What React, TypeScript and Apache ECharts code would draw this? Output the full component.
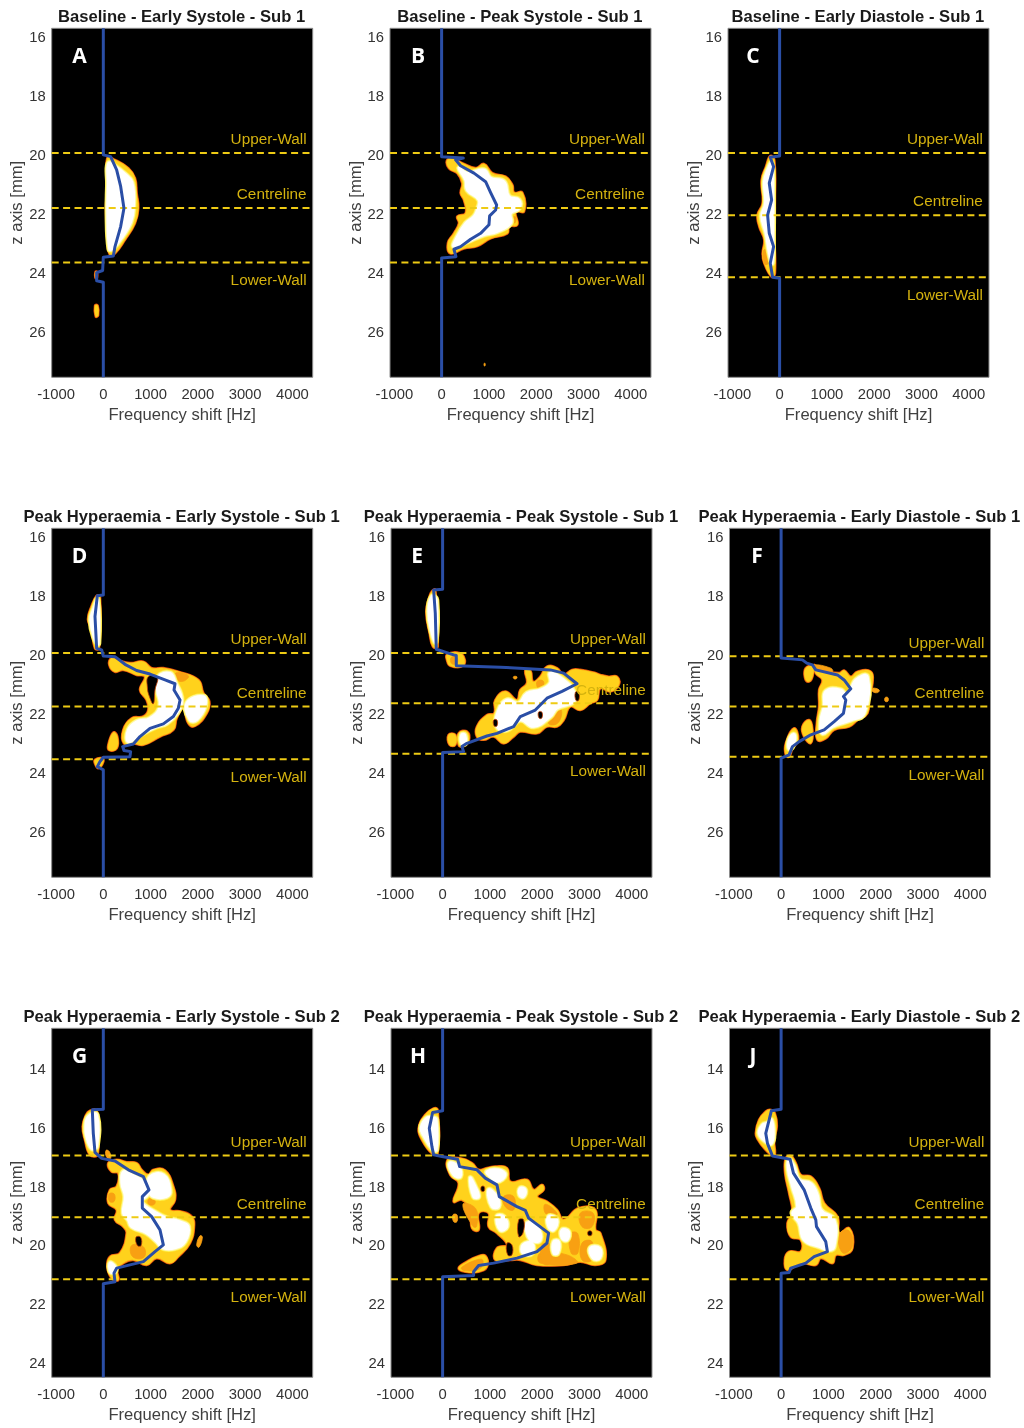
import React, { useEffect, useRef } from "react";
import * as echarts from "echarts";

type Pts = number[][];

const freqTicks = [-1000, 0, 1000, 2000, 3000, 4000];
const zTicksSub1 = [16, 18, 20, 22, 24, 26];
const zTicksSub2 = [14, 16, 18, 20, 22, 24];
const wallNames = ["Upper-Wall", "Centreline", "Lower-Wall"];

// ---- A ----
const aWalls = [19.95, 21.81, 23.66];
const aWallText = [19.47, 21.31, 24.23];
const aProfile: Pts = [[0,15.72],[0,20.01],[155,20.07],[282,20.52],[367,21.08],[437,21.82],[367,22.44],[247,23.12],[212,23.44],[0,23.48],[-14,23.93],[-141,24.0],[-141,24.28],[0,24.33],[0,27.55]];
const aOuter: Pts[] = [
  [[85,20.12],[247,20.18],[529,20.46],[670,20.8],[705,21.31],[740,21.82],[670,22.33],[458,22.89],[247,23.35],[141,23.4],[85,22.9],[56,21.82],[85,21.08]],
  [[-175,25.12],[-120,25.12],[-110,25.45],[-160,25.49]],
  [[-165,23.98],[-135,23.98],[-135,24.18],[-165,24.18]],
];
const aCore: Pts[] = [[[110,20.3],[250,20.4],[450,20.65],[610,20.95],[640,21.82],[580,22.3],[420,22.75],[200,23.2],[130,23.2],[90,22],[100,21]]];
const aWarm: Pts[] = [];
const aHoles: Pts[] = [];

// ---- B ----
const bWalls = [19.95, 21.81, 23.66];
const bWallText = [19.47, 21.31, 24.23];
const bProfile: Pts = [[0,15.72],[0,20.07],[459,20.12],[296,20.18],[402,20.38],[684,20.63],[931,20.92],[1037,21.29],[1164,21.71],[1143,21.88],[1016,22.08],[1002,22.38],[825,22.67],[614,22.87],[402,23.12],[261,23.21],[303,23.46],[0,23.51],[0,27.55]];
const bOuter: Pts[] = [
  [[120,20.18],[261,20.16],[437,20.29],[720,20.46],[896,20.32],[1072,20.63],[1355,20.75],[1496,21.03],[1531,21.29],[1707,21.29],[1743,21.93],[1566,21.93],[1601,22.38],[1425,22.44],[1390,22.67],[1037,22.84],[755,23.1],[473,23.18],[190,23.35],[134,23.0],[261,22.67],[367,22.33],[332,22.1],[508,21.99],[473,21.54],[402,21.31],[437,20.97],[332,20.63],[155,20.46]],
];
const bCore: Pts[] = [[[367,20.46],[543,20.63],[896,20.52],[1037,20.8],[1319,20.92],[1425,21.42],[1637,21.54],[1637,21.82],[1460,21.99],[1460,22.33],[1178,22.61],[896,22.72],[543,22.95],[261,23.12],[332,22.78],[508,22.33],[684,22.1],[755,21.88],[790,21.54],[543,21.2],[508,20.86]]];
const bWarm: Pts[] = [[[900,27.08],[920,27.08],[920,27.16],[900,27.16]],[[1510,22.12],[1570,22.12],[1560,22.3],[1520,22.3]]];
const bHoles: Pts[] = [];

// ---- C ----
const cWalls = [19.95, 22.06, 24.16];
const cWallText = [19.47, 21.57, 24.74];
const cProfile: Pts = [[0,15.72],[0,20.05],[-198,20.09],[-127,20.41],[-219,20.97],[-169,21.54],[-254,22.05],[-219,22.67],[-127,23.12],[-198,23.68],[-148,24.16],[0,24.19],[0,27.55]];
const cOuter: Pts[] = [[[-198,20.05],[-113,20.18],[-99,21.54],[-113,22.67],[-99,24.02],[-169,24.14],[-325,23.68],[-360,23.35],[-325,22.89],[-430,22.44],[-466,22.05],[-360,21.65],[-381,20.86],[-289,20.41]]];
const cCore: Pts[] = [[[-169,20.29],[-141,21.54],[-141,22.67],[-155,23.68],[-219,23.35],[-289,22.67],[-381,22.1],[-303,21.65],[-325,20.92],[-254,20.52]]];
const cWarm: Pts[] = [[[-340,23.25],[-270,23.25],[-250,23.7],[-320,23.7]]];
const cHoles: Pts[] = [];

// ---- D ----
const dWalls = [19.95, 21.76, 23.55];
const dWallText = [19.47, 21.28, 24.14];
const dProfile: Pts = [[0,15.72],[0,17.98],[-127,18.01],[-176,18.71],[-141,19.79],[-35,19.84],[0,20.05],[247,20.07],[458,20.33],[705,20.54],[987,20.66],[1305,20.86],[1517,20.99],[1496,21.2],[1623,21.54],[1587,21.82],[1482,22.1],[1270,22.35],[987,22.5],[776,22.78],[635,23.03],[409,23.12],[437,23.25],[578,23.29],[564,23.46],[0,23.48],[-71,23.63],[-127,23.8],[0,23.91],[0,27.55]];
const dOuter: Pts[] = [
  [[176,20.12],[282,20.18],[564,20.29],[847,20.24],[1023,20.46],[1270,20.46],[1587,20.58],[2011,20.86],[2117,21.31],[2243,21.59],[2187,21.99],[1940,22.42],[1799,22.33],[1693,21.82],[1552,22.16],[1482,22.55],[1199,22.78],[847,23.06],[635,23.01],[437,23.01],[423,22.55],[600,22.16],[847,22.1],[952,21.88],[917,21.54],[776,21.2],[882,20.75],[705,20.69],[423,20.52],[247,20.58],[127,20.35]],
  [[106,23.06],[212,22.64],[296,22.78],[282,23.18],[127,23.24]],
  [[-176,23.57],[-35,23.51],[0,23.63],[-106,23.85],[-176,23.69]],
  [[-141,18.01],[-71,18.03],[-92,19.79],[-176,19.79],[-247,19.16],[-325,18.8],[-247,18.35]],
];
const dCore: Pts[] = [
  [[1164,20.75],[1411,20.63],[1517,20.92],[1658,21.54],[1552,21.99],[1340,22.33],[1129,22.44],[776,22.72],[529,22.95],[529,22.55],[705,22.27],[987,22.16],[1199,21.76],[1143,21.2]],
  [[1764,21.65],[2117,21.42],[2152,21.76],[1976,22.21],[1834,22.21]],
  [[-120,18.15],[-106,19.62],[-176,19.5],[-268,18.83],[-198,18.43]],
];
const dWarm: Pts[] = [[[1540,20.62],[1800,20.72],[1700,20.9],[1560,20.85]]];
const dHoles: Pts[] = [[[952,20.75],[1143,20.75],[1094,21.2],[1058,21.67],[974,21.42],[931,21.09]]];

// ---- E ----
const eWalls = [19.95, 21.65, 23.36];
const eWallText = [19.47, 21.18, 23.93];
const eProfile: Pts = [[0,15.72],[0,17.79],[-190,17.81],[-155,18.6],[-134,19.82],[233,20.01],[289,20.03],[289,20.38],[1220,20.43],[2279,20.52],[2561,20.63],[2843,20.99],[2526,21.25],[2208,21.48],[1961,21.88],[1644,22.1],[1503,22.44],[1150,22.67],[938,22.76],[515,23.01],[409,23.12],[444,23.29],[0,23.32],[0,27.55]];
const eOuter: Pts[] = [
  [[1750,20.54],[1855,20.54],[1912,20.92],[2067,20.75],[2208,20.41],[2420,20.46],[2561,20.69],[2737,20.52],[2914,20.52],[3196,20.61],[3337,20.69],[3513,20.75],[3690,20.75],[3725,21.03],[3549,21.25],[3337,21.14],[3266,21.54],[3125,21.65],[2914,21.88],[2702,21.76],[2561,22.22],[2420,22.44],[2208,22.44],[1997,22.67],[1644,22.61],[1503,22.78],[1291,23.01],[1079,22.78],[868,22.89],[727,22.78],[727,22.44],[938,22.05],[1094,21.99],[1115,21.54],[1326,21.25],[1573,21.54],[1644,21.2],[1785,20.97]],
  [[92,20.01],[304,19.93],[444,20.07],[430,20.38],[163,20.38],[92,20.18]],
  [[127,22.72],[268,22.72],[268,23.06],[148,23.06]],
  [[339,22.67],[515,22.61],[550,22.95],[409,23.12],[339,23.06]],
  [[-226,17.86],[-155,17.81],[-106,19.73],[-205,19.73],[-275,19.28],[-346,18.54],[-275,18.03]],
];
const eCore: Pts[] = [
  [[2279,20.63],[2561,20.86],[2773,21.25],[2773,21.59],[2420,21.82],[2279,22.1],[1926,22.44],[1644,22.22],[1362,22.55],[1150,22.44],[1185,21.88],[1362,21.54],[1609,21.65],[1785,21.31],[2067,21.2],[2279,20.97]],
  [[400,22.72],[470,22.72],[480,23.0],[410,23.02]],
  [[-226,18.03],[-134,18.15],[-148,19.56],[-226,19.28],[-296,18.54]],
];
const eWarm: Pts[] = [
  [[2000,20.9],[2130,20.9],[2110,21.15],[2020,21.15]],
  [[2280,22.0],[2500,21.85],[2450,22.3],[2250,22.35]],
  [[1500,20.75],[1570,20.75],[1560,20.82],[1510,20.82]],
  [[180,20.1],[300,20.1],[300,20.3],[190,20.3]],
];
const eHoles: Pts[] = [
  [[2030,21.95],[2100,21.95],[2100,22.15],[2040,22.15]],
  [[1080,22.22],[1150,22.22],[1150,22.42],[1090,22.42]],
  [[2810,21.28],[2880,21.28],[2880,21.55],[2820,21.55]],
];

// ---- F ----
const fWalls = [20.06, 21.76, 23.46];
const fWallText = [19.58, 21.28, 24.05];
const fProfile: Pts = [[0,15.72],[0,20.12],[451,20.18],[543,20.29],[663,20.35],[733,20.52],[1192,20.69],[1333,20.86],[1475,21.16],[1319,21.42],[1369,21.54],[1319,21.99],[1122,22.27],[910,22.55],[628,22.72],[381,22.95],[240,23.12],[169,23.4],[0,23.51],[0,27.55]];
const fOuter: Pts[] = [
  [[698,20.35],[804,20.52],[1228,20.63],[1333,20.54],[1475,20.75],[1615,20.58],[1898,20.58],[1933,20.97],[1862,21.42],[1827,21.99],[1615,22.22],[1440,22.44],[1122,22.55],[945,22.84],[769,22.89],[755,22.33],[804,21.76],[804,21.2],[875,20.86],[733,20.63]],
  [[522,20.46],[663,20.41],[663,20.75],[571,20.92],[501,20.75]],
  [[451,22.44],[593,22.22],[663,22.55],[628,23.0],[487,22.78]],
  [[99,23.01],[275,22.5],[360,22.89],[240,23.18],[169,23.46],[99,23.4]],
];
const fCore: Pts[] = [
  [[945,21.25],[1263,21.2],[1403,21.42],[1580,20.86],[1827,20.75],[1757,21.99],[1475,22.22],[1087,22.44],[875,22.67],[840,22.22],[910,21.76]],
  [[160,22.95],[265,22.7],[290,22.9],[180,23.2]],
];
const fWarm: Pts[] = [
  [[1933,21.14],[2074,21.2],[2039,21.29],[1933,21.25]],
  [[2200,21.46],[2260,21.46],[2260,21.58],[2200,21.58]],
  [[698,20.35],[1051,20.46],[1087,20.58],[769,20.52]],
];
const fHoles: Pts[] = [];

// ---- G ----
const gWalls = [16.94, 19.04, 21.15];
const gWallText = [16.47, 18.56, 21.73];
const gProfile: Pts = [[0,12.62],[0,15.37],[-233,15.39],[-212,16.19],[-176,16.84],[-35,17.04],[247,17.13],[529,17.43],[847,17.66],[966,18.11],[825,18.34],[825,18.73],[1023,19.02],[1199,19.47],[1270,19.98],[1094,20.21],[847,20.55],[564,20.66],[282,20.77],[226,20.94],[247,21.23],[0,21.3],[0,24.48]];
const gOuter: Pts[] = [
  [[-282,15.42],[-141,15.42],[-120,16.19],[-127,16.92],[-282,16.92],[-388,16.41],[-437,15.96],[-367,15.57]],
  [[106,17.2],[282,17.09],[494,17.17],[705,17.2],[811,17.43],[952,17.6],[1058,17.43],[1305,17.45],[1482,18.0],[1517,18.45],[1411,18.79],[1658,18.85],[1870,19.02],[1919,19.36],[1834,19.92],[1587,20.38],[1411,20.6],[1129,20.43],[917,20.66],[635,20.49],[423,20.6],[296,20.83],[317,21.17],[176,21.11],[85,20.72],[141,20.38],[353,20.26],[494,19.58],[423,19.36],[247,19.13],[282,18.79],[106,18.56],[141,18.11],[282,18.0],[317,17.54],[176,17.49]],
];
const gCore: Pts[] = [
  [[-317,15.62],[-141,15.56],[-141,16.64],[-247,16.7],[-353,16.3],[-374,15.96]],
  [[423,17.49],[600,17.6],[847,17.83],[952,18.22],[811,18.51],[1129,18.9],[1340,19.07],[1623,19.19],[1799,19.36],[1729,19.87],[1517,20.09],[1270,20.09],[1129,19.87],[917,19.58],[600,19.36],[529,19.13],[423,18.9],[459,18.34],[388,17.88]],
  [[987,17.66],[1270,17.6],[1411,18.11],[1340,18.34],[1058,18.34],[966,18.11]],
  [[141,20.6],[247,20.72],[240,20.9],[155,20.9]],
];
const gWarm: Pts[] = [
  [[56,16.77],[127,16.81],[155,17.04],[70,17.0]],
  [[2046,19.67],[2096,19.72],[2025,20.06],[1975,19.98]],
  [[600,20.0],[850,20.05],[860,20.4],[620,20.38]],
  [[960,18.42],[1080,18.42],[1080,18.6],[960,18.6]],
  [[120,18.25],[230,18.25],[230,18.5],[130,18.5]],
];
const gHoles: Pts[] = [[[690,19.72],[790,19.72],[800,20.0],[720,20.0]]];

// ---- H ----
const hWalls = [16.94, 19.04, 21.15];
const hWallText = [16.47, 18.56, 21.73];
const hProfile: Pts = [[0,12.62],[0,15.42],[-212,15.48],[-282,16.02],[-226,16.64],[-190,16.92],[-14,16.98],[317,17.07],[360,17.32],[727,17.43],[903,17.71],[1150,17.94],[1199,18.34],[1573,18.68],[1750,18.81],[1820,19.07],[2243,19.58],[2208,19.92],[1997,20.21],[1573,20.43],[1079,20.6],[762,20.68],[656,20.89],[656,21.02],[0,21.06],[0,24.48]];
const hOuter: Pts[] = [
  [[-190,15.34],[-106,15.39],[-106,16.87],[-226,16.87],[-437,16.41],[-508,16.02],[-367,15.56]],
  [[106,17.09],[374,17.04],[621,17.2],[762,17.43],[938,17.37],[1115,17.32],[1362,17.37],[1432,17.83],[1785,17.77],[1926,18.11],[2102,17.94],[2138,18.11],[1997,18.34],[2208,18.51],[2420,18.79],[2561,19.13],[2878,18.73],[3231,18.79],[3231,19.47],[3337,19.58],[3443,20.49],[3231,20.66],[2914,20.55],[2561,20.66],[1997,20.66],[1644,20.49],[1432,20.49],[1115,20.49],[1150,20.09],[1362,19.98],[1150,19.58],[974,19.36],[974,18.9],[762,18.9],[762,19.47],[621,19.41],[586,18.79],[409,18.45],[233,18.51],[339,17.88],[162,17.6]],
  [[339,20.77],[515,20.55],[727,20.38],[903,20.35],[938,20.72],[762,20.89],[480,20.89]],
];
const hCore: Pts[] = [
  [[-205,15.66],[-134,15.72],[-134,16.75],[-226,16.7],[-388,16.3],[-459,16.02],[-346,15.68]],
  [[148,17.2],[339,17.32],[374,17.66],[233,17.6]],
  [[938,17.49],[1185,17.43],[1326,17.6],[1150,17.83],[1009,17.66]],
  [[1644,18.05],[1750,18.11],[1714,18.34],[1630,18.28]],
  [[974,18.11],[1150,18.34],[1185,18.68],[1044,18.68]],
  [[586,17.71],[691,18],[762,18.34],[656,18.34]],
  [[1150,19.02],[1291,19.02],[1362,19.36],[1220,19.47]],
  [[1785,19.24],[1997,19.36],[2067,19.81],[1855,19.81]],
  [[1700,19.98],[1891,19.92],[1891,20.26],[1700,20.26]],
  [[2243,19.02],[2420,19.13],[2349,19.47],[2243,19.36]],
  [[2526,19.47],[2667,19.53],[2632,19.81],[2526,19.75]],
  [[3125,20.09],[3323,20.09],[3323,20.43],[3182,20.43]],
  [[2349,19.87],[2455,19.87],[2434,20.26],[2349,20.26]],
];
const hWarm: Pts[] = [
  [[2914,18.9],[3182,18.9],[3160,19.36],[2949,19.36]],
  [[2067,20.26],[2632,20.32],[2843,20.6],[2067,20.6]],
  [[1291,18.34],[1503,18.34],[1503,18.79],[1326,18.68]],
  [[2949,19.92],[3160,19.87],[3160,20.49],[2949,20.49]],
  [[2173,18.6],[2420,18.9],[2349,19.02],[2173,18.9]],
  [[219,18.96],[303,18.96],[303,19.19],[233,19.19]],
  [[400,20.75],[700,20.5],[850,20.5],[780,20.8],[450,20.85]],
  [[430,18.6],[700,18.75],[720,19.35],[640,19.35]],
  [[2102,19.98],[2279,19.98],[2279,20.6],[2120,20.6]],
  [[2702,19.6],[2860,19.6],[2860,20.26],[2720,20.26]],
];
const hHoles: Pts[] = [
  [[820,18.0],[880,18.0],[880,18.15],[820,18.15]],
  [[1609,19.13],[1714,19.13],[1700,19.58],[1609,19.7]],
  [[1362,19.92],[1467,19.98],[1467,20.32],[1376,20.32]],
  [[3080,19.52],[3150,19.52],[3150,19.65],[3080,19.65]],
];

// ---- J ----
const jWalls = [16.94, 19.04, 21.15];
const jWallText = [16.47, 18.56, 21.73];
const jProfile: Pts = [[0,12.62],[0,15.37],[-205,15.42],[-325,16.19],[-289,16.53],[-183,16.96],[190,17.07],[261,17.54],[487,18.11],[628,18.73],[734,19.13],[748,19.36],[945,19.87],[980,20.21],[698,20.38],[522,20.6],[205,20.77],[169,20.92],[0,20.94],[0,24.48]];
const jOuter: Pts[] = [
  [[-233,15.39],[-134,15.51],[-92,15.96],[-148,16.41],[-134,16.92],[-205,16.92],[-360,16.69],[-487,16.41],[-536,16.19],[-466,15.73],[-325,15.45]],
  [[204,16.96],[310,17.2],[416,17.6],[628,17.66],[804,18.05],[910,18.56],[1192,19.02],[1228,19.58],[1439,19.41],[1510,20.09],[1333,20.32],[1157,20.32],[1087,20.6],[840,20.43],[734,20.66],[416,20.6],[134,20.83],[78,20.49],[169,20.21],[416,20.21],[416,19.81],[204,19.7],[134,19.24],[240,18.9],[169,18.22],[85,17.54],[99,17.04]],
];
const jCore: Pts[] = [
  [[-289,15.84],[-205,15.73],[-162,16.19],[-205,16.53],[-325,16.47],[-466,16.19],[-395,15.91]],
  [[169,17.09],[275,17.32],[381,17.77],[628,17.89],[769,18.28],[840,18.79],[1122,19.13],[1122,20.04],[1016,20.15],[804,20.04],[487,19.81],[381,19.24],[240,18.9],[346,18.68],[240,18.01],[148,17.41]],
];
const jWarm: Pts[] = [[[1228,19.62],[1439,19.5],[1500,20.05],[1300,20.25]]];
const jHoles: Pts[] = [];

// Layout of the small multiples (library options, not data).
const AXIS_W = 261;
const AXIS_H = 349;
const FREQ_MIN = -1092;
const FREQ_MAX = 4430;
const LABEL_FREQ = 4300;
const FONT = '"Liberation Sans", Arial, sans-serif';

const panels = [
  { title: "Baseline - Early Systole - Sub 1", letter: "A", lx: 79.5, x: 51.7, y: 28.3, z: [15.72, 27.55], ticks: zTicksSub1, walls: aWalls, wallText: aWallText, profile: aProfile, outer: aOuter, core: aCore, warm: aWarm, holes: aHoles },
  { title: "Baseline - Peak Systole - Sub 1", letter: "B", lx: 418, x: 390, y: 28.3, z: [15.72, 27.55], ticks: zTicksSub1, walls: bWalls, wallText: bWallText, profile: bProfile, outer: bOuter, core: bCore, warm: bWarm, holes: bHoles },
  { title: "Baseline - Early Diastole - Sub 1", letter: "C", lx: 753, x: 728, y: 28.3, z: [15.72, 27.55], ticks: zTicksSub1, walls: cWalls, wallText: cWallText, profile: cProfile, outer: cOuter, core: cCore, warm: cWarm, holes: cHoles },
  { title: "Peak Hyperaemia - Early Systole - Sub 1", letter: "D", lx: 79.5, x: 51.7, y: 528.3, z: [15.72, 27.55], ticks: zTicksSub1, walls: dWalls, wallText: dWallText, profile: dProfile, outer: dOuter, core: dCore, warm: dWarm, holes: dHoles },
  { title: "Peak Hyperaemia - Peak Systole - Sub 1", letter: "E", lx: 417, x: 391, y: 528.3, z: [15.72, 27.55], ticks: zTicksSub1, walls: eWalls, wallText: eWallText, profile: eProfile, outer: eOuter, core: eCore, warm: eWarm, holes: eHoles },
  { title: "Peak Hyperaemia - Early Diastole - Sub 1", letter: "F", lx: 757, x: 729.5, y: 528.3, z: [15.72, 27.55], ticks: zTicksSub1, walls: fWalls, wallText: fWallText, profile: fProfile, outer: fOuter, core: fCore, warm: fWarm, holes: fHoles },
  { title: "Peak Hyperaemia - Early Systole - Sub 2", letter: "G", lx: 79.5, x: 51.7, y: 1028.3, z: [12.62, 24.48], ticks: zTicksSub2, walls: gWalls, wallText: gWallText, profile: gProfile, outer: gOuter, core: gCore, warm: gWarm, holes: gHoles },
  { title: "Peak Hyperaemia - Peak Systole - Sub 2", letter: "H", lx: 418, x: 391, y: 1028.3, z: [12.62, 24.48], ticks: zTicksSub2, walls: hWalls, wallText: hWallText, profile: hProfile, outer: hOuter, core: hCore, warm: hWarm, holes: hHoles },
  { title: "Peak Hyperaemia - Early Diastole - Sub 2", letter: "J", lx: 753, x: 729.5, y: 1028.3, z: [12.62, 24.48], ticks: zTicksSub2, walls: jWalls, wallText: jWallText, profile: jProfile, outer: jOuter, core: jCore, warm: jWarm, holes: jHoles },
];

const plain = (v: number) => String(v);

function blobLayers(p: (typeof panels)[number]) {
  const out: { poly: Pts; fill: string; stroke: string; w: number }[] = [];
  const push = (list: Pts[], fill: string, stroke: string, w: number) =>
    list.forEach((poly) => out.push({ poly, fill, stroke, w }));
  push(p.outer, "#d9450c", "#d9450c", 2.6);
  push(p.outer, "#f98c10", "#f98c10", 1.5);
  push(p.outer, "#ffd21c", "#ffd21c", 0.5);
  push(p.warm, "#f8a012", "#f8a012", 0.8);
  push(p.core, "#ffee40", "#ffee40", 6);
  push(p.core, "#fff8a8", "#fff8a8", 4.5);
  push(p.core, "#ffffff", "#ffffff", 2.5);
  push(p.holes, "#000000", "#c2410a", 0.8);
  return out;
}

function buildOption() {
  const grid: any[] = [];
  const xAxis: any[] = [];
  const yAxis: any[] = [];
  const series: any[] = [];
  const title: any[] = [];
  const graphic: any[] = [];
  panels.forEach((p, i) => {
    grid.push({ left: p.x, top: p.y, width: AXIS_W, height: AXIS_H, show: true, backgroundColor: "#000", borderColor: "#8c8c8c", borderWidth: 1, containLabel: false });
    xAxis.push({
      gridIndex: i, type: "value", min: FREQ_MIN, max: FREQ_MAX, position: "bottom",
      name: "Frequency shift [Hz]", nameLocation: "middle", nameGap: 29,
      nameTextStyle: { color: "#404040", fontSize: 16.6, fontFamily: FONT },
      axisLine: { show: false, onZero: false }, axisTick: { show: false }, splitLine: { show: false },
      axisLabel: { customValues: freqTicks, formatter: plain, color: "#333", fontSize: 14.8, fontFamily: FONT, margin: 9, hideOverlap: false, showMinLabel: true, showMaxLabel: true },
    });
    yAxis.push({
      gridIndex: i, type: "value", min: p.z[0], max: p.z[1], inverse: true, position: "left",
      name: "z axis [mm]", nameLocation: "middle", nameGap: 23.5,
      nameTextStyle: { color: "#404040", fontSize: 16.6, fontFamily: FONT },
      axisLine: { show: false, onZero: false }, axisTick: { show: false }, splitLine: { show: false },
      axisLabel: { customValues: p.ticks, formatter: plain, color: "#333", fontSize: 14.8, fontFamily: FONT, margin: 6 },
    });
    const layers = blobLayers(p);
    series.push({
      type: "custom", xAxisIndex: i, yAxisIndex: i, silent: true, clip: true, z: 2,
      data: layers.map((l, k) => [l.poly[0][0], l.poly[0][1], k]),
      renderItem: (params: any, api: any) => {
        const l = layers[params.dataIndex];
        return {
          type: "polygon",
          shape: { points: l.poly.map((pt) => api.coord(pt)), smooth: 0.45 },
          style: { fill: l.fill, stroke: l.stroke, lineWidth: l.w, lineJoin: "round" },
        };
      },
    });
    p.walls.forEach((z) => {
      series.push({
        type: "line", xAxisIndex: i, yAxisIndex: i, silent: true, symbol: "none", z: 3,
        data: [[FREQ_MIN, z], [FREQ_MAX, z]],
        lineStyle: { color: "#eecb14", width: 2, type: [7, 4.4] },
      });
    });
    series.push({
      type: "line", xAxisIndex: i, yAxisIndex: i, silent: true, symbol: "none", z: 4,
      data: p.profile,
      lineStyle: { color: "#2a4ea6", width: 3, join: "round" },
    });
    series.push({
      type: "custom", xAxisIndex: i, yAxisIndex: i, silent: true, z: 5,
      data: p.wallText.map((z, k) => [LABEL_FREQ, z, k]),
      renderItem: (params: any, api: any) => {
        const c = api.coord([api.value(0), api.value(1)]);
        return {
          type: "text", x: c[0], y: c[1],
          style: { text: wallNames[api.value(2)], align: "right", verticalAlign: "middle", fill: "#d4b20f", fontSize: 15.3, fontFamily: FONT },
        };
      },
    });
    title.push({
      text: p.title, left: p.x + AXIS_W / 2 - 5.6, top: p.y - 25.6, textAlign: "center",
      textStyle: { color: "#1a1a1a", fontSize: 16.6, fontWeight: "bold", fontFamily: FONT },
    });
    graphic.push({
      type: "text", x: p.lx, y: p.y + 27, z: 100,
      style: { text: p.letter, align: "center", verticalAlign: "middle", fill: "#fff", fontSize: 21, fontWeight: "bold", fontFamily: '"Open Sans", sans-serif' },
    });
  });
  return { animation: false, backgroundColor: "#fff", title, grid, xAxis, yAxis, series, graphic };
}

export default function App() {
  const ref = useRef<HTMLDivElement>(null);
  useEffect(() => {
    const chart = echarts.init(ref.current!, undefined, { renderer: "svg" });
    chart.setOption(buildOption() as any);
    return () => chart.dispose();
  }, []);
  return <div ref={ref} style={{ position: "absolute", left: 0, top: 0, width: 1024, height: 1428, filter: "blur(0.5px)" }} />;
}
